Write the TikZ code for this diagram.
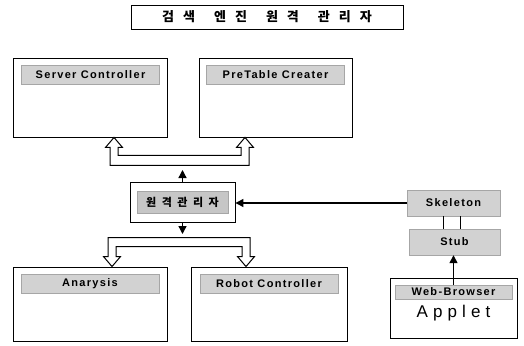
\documentclass[tikz,border=0pt]{standalone}
\usepackage{fontspec}
\setmainfont{Liberation Sans}
\newfontfamily\labelfont[LetterSpace=12]{Liberation Sans}
\newfontfamily\appletfont[LetterSpace=30]{Liberation Sans}
\newfontfamily\hangulfont{Noto Sans CJK KR}
\newfontfamily\managerfont[LetterSpace=50]{Noto Sans CJK KR}
\usetikzlibrary{positioning,arrows.meta,calc}

\begin{document}
\begin{tikzpicture}[x=1pt,y=-1pt,
    modbox/.style={draw,line width=0.9pt,minimum width=154pt,minimum height=79pt,inner sep=0},
    tagbox/.style={draw=gray!70,fill=gray!35,minimum width=138pt,minimum height=19pt,inner sep=0,
        font=\labelfont\bfseries\fontsize{11}{12}\selectfont},
    hollow/.style={draw,fill=white,line width=1pt,line join=miter},
    pointer/.style={line width=1.3pt,-{Triangle[length=8pt,width=8pt]}}]
    \providecommand{\smallgap}{\hspace{9pt}}
    \providecommand{\widegap}{\hspace{19pt}}
    \useasboundingbox (0,0) rectangle (524,345);
    % title
    \node[draw,line width=0.9pt,minimum width=272pt,minimum height=24pt,inner sep=0,
        font=\hangulfont\bfseries\fontsize{13}{14}\selectfont] (title) at (267,17)
        {검\smallgap 색\widegap 엔\smallgap 진\widegap 원\smallgap 격\widegap 관\smallgap 리\smallgap 자};
    % upper modules
    \node[modbox] (server) at (90.5,97.5) {};
    \node[tagbox,below=7pt of server.north] (serverlbl) {Server Controller};
    \node[modbox,minimum width=153pt] (pretable) at (275.5,97.5) {};
    \node[tagbox,below=7pt of pretable.north] (pretablelbl) {PreTable Creater};
    % remote manager
    \node[draw,line width=0.9pt,minimum width=105pt,minimum height=40pt,inner sep=0] (manager) at (182.5,202) {};
    \node[tagbox,fill=gray!45,minimum width=91pt,minimum height=22pt,
        font=\managerfont\bfseries\fontsize{11}{12}\selectfont] (managerlbl) at (manager.center) {원격관리자};
    \coordinate (uptip) at (182.5,170);
    \coordinate (downtip) at (182.5,234);
    % lower modules
    \node[modbox,minimum height=74pt] (anarysis) at (90,304) {};
    \node[tagbox,below=7pt of anarysis.north] (anarysislbl) {Anarysis};
    \node[modbox,minimum width=156pt,minimum height=74pt] (robot) at (269,304) {};
    \node[tagbox,below=7pt of robot.north] (robotlbl) {Robot Controller};
    % applet side
    \node[tagbox,minimum width=93pt,minimum height=26pt] (skeleton) at (453.5,203) {Skeleton};
    \node[tagbox,minimum width=91pt,minimum height=26pt] (stub) at (454.5,242) {Stub};
    \node[draw,line width=0.9pt,minimum width=127pt,minimum height=60pt,inner sep=0] (applet) at (453.5,308) {};
    \node[tagbox,minimum width=117pt,minimum height=14pt,below=7pt of applet.north] (browser) {Web-Browser};
    \node[font=\appletfont\fontsize{17}{18}\selectfont,below=3pt of browser] (appletname) {Applet};
    % hollow connectors
    \coordinate (stip) at ([xshift=23.5pt]server.south);
    \coordinate (ptip) at ([xshift=-30.5pt]pretable.south);
    \draw[hollow] (stip) -- ++(8.5,10) -- ++(-4.5,0) |- ($(ptip)+(-4,18)$) -- ($(ptip)+(-4,10)$)
        -- ++(-4.5,0) -- (ptip) -- ++(8.5,10) -- ++(-4.5,0) |- ($(stip)+(-4,28)$)
        -- ($(stip)+(-4,10)$) -- ++(-4.5,0) -- cycle;
    \coordinate (atip) at ([xshift=22pt]anarysis.north);
    \coordinate (rtip) at ([xshift=-23pt]robot.north);
    \draw[hollow] (atip) -- ++(8.5,-10) -- ++(-4.5,0) |- ($(rtip)+(-4,-20)$) -- ($(rtip)+(-4,-10)$)
        -- ++(-4.5,0) -- (rtip) -- ++(8.5,-10) -- ++(-4.5,0) |- ($(atip)+(-4,-29)$)
        -- ($(atip)+(-4,-10)$) -- ++(-4.5,0) -- cycle;
    % other connectors
    \draw[pointer] (manager.north) -- (uptip);
    \draw[pointer] (manager.south) -- (downtip);
    \draw[pointer] (skeleton.west) -- (skeleton.west -| manager.east);
    \draw[line width=0.9pt] ([xshift=-10pt]skeleton.south) -- ([xshift=-10pt]skeleton.south |- stub.north);
    \draw[line width=0.9pt] ([xshift=7pt]skeleton.south) -- ([xshift=7pt]skeleton.south |- stub.north);
    \draw[pointer] (browser.north) -- (browser.north |- stub.south);
\end{tikzpicture}
\end{document}
